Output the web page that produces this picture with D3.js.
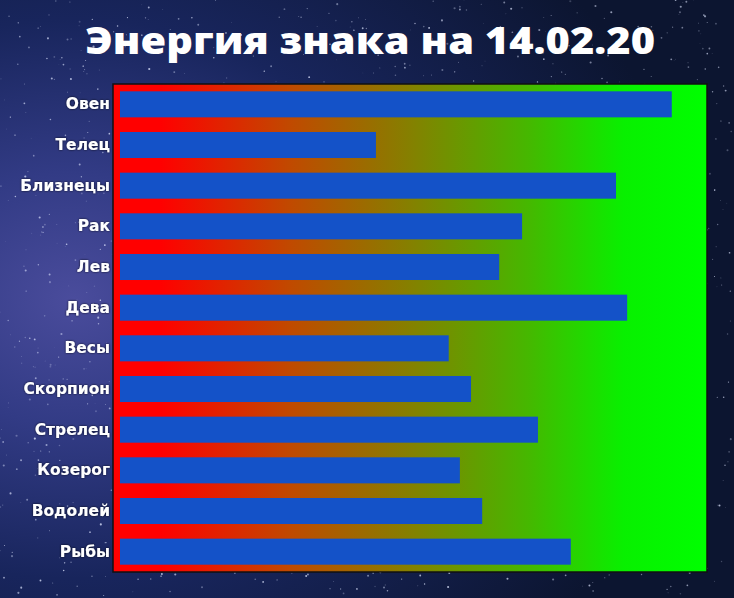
<!DOCTYPE html>
<html>
<head>
<meta charset="utf-8">
<script src="https://cdn.jsdelivr.net/npm/d3@7"></script>
<style>
  html, body { margin: 0; padding: 0; background: #0e1733; }
  svg { display: block; }
</style>
</head>
<body>
<div id="app"></div>
<script>
// знаки и энергия (0..100)
const signs = ["Овен", "Телец", "Близнецы", "Рак", "Лев", "Дева", "Весы", "Скорпион", "Стрелец", "Козерог", "Водолей", "Рыбы"];
const energy = [94, 43.6, 84.5, 68.5, 64.6, 86.4, 56, 59.8, 71.2, 57.9, 61.7, 76.8];
const title = "Энергия знака на 14.02.20";

const width = 734;
const height = 598;
const plot = { left: 113, top: 84, right: 707, bottom: 572 };

const svg = d3.select('#app')
  .append('svg')
  .attr('width', width)
  .attr('height', height);

const defs = svg.append('defs');

// night sky
const sky = defs.append('radialGradient')
  .attr('id', 'sky')
  .attr('cx', '0.1').attr('cy', '0.5').attr('r', '0.85');
sky.append('stop').attr('offset', '0%').attr('stop-color', '#4a4c9c');
sky.append('stop').attr('offset', '25%').attr('stop-color', '#323b85');
sky.append('stop').attr('offset', '55%').attr('stop-color', '#18255c');
sky.append('stop').attr('offset', '100%').attr('stop-color', '#0c1530');

const fill = defs.append('linearGradient')
  .attr('id', 'heat')
  .attr('x1', '0').attr('x2', '1').attr('y1', '0').attr('y2', '0');
[["0%", "#ff0000"], ["8%", "#ff0000"], ["30%", "#c04a00"], ["50%", "#858000"],
 ["70%", "#45b800"], ["86%", "#08f000"], ["100%", "#00ff00"]]
  .forEach(s => fill.append('stop').attr('offset', s[0]).attr('stop-color', s[1]));

const shadow = defs.append('filter').attr('id', 'shadow')
  .attr('x', '-10%').attr('y', '-30%').attr('width', '120%').attr('height', '160%');
shadow.append('feDropShadow')
  .attr('dx', 0).attr('dy', 0).attr('stdDeviation', 1.2)
  .attr('flood-color', '#000').attr('flood-opacity', 0.8);

svg.append('rect')
  .attr('width', width)
  .attr('height', height)
  .attr('fill', 'url(#sky)');

// stars (deterministic)
let seed = 7;
const rnd = () => { seed = (seed * 16807) % 2147483647; return seed / 2147483647; };
const stars = d3.range(1400).map(() => [rnd() * width, rnd() * height, rnd() * 0.8 + 0.3, rnd() * 0.6 + 0.2]);
svg.append('g')
  .selectAll('circle')
  .data(stars)
  .enter()
  .append('circle')
  .attr('cx', d => d[0])
  .attr('cy', d => d[1])
  .attr('r', d => d[2])
  .attr('fill', '#dfe6ff')
  .attr('opacity', d => d[3]);

svg.append('text')
  .attr('x', 370)
  .attr('y', 54)
  .attr('text-anchor', 'middle')
  .attr('fill', '#fff')
  .attr('textLength', 570)
  .attr('lengthAdjust', 'spacingAndGlyphs')
  .style('font-family', '"Open Sans", sans-serif')
  .style('font-weight', 800)
  .style('font-size', '37px')
  .text(title);

svg.append('rect')
  .attr('x', plot.left)
  .attr('y', plot.top)
  .attr('width', plot.right - plot.left)
  .attr('height', plot.bottom - plot.top)
  .attr('fill', 'url(#heat)')
  .attr('stroke', '#111')
  .attr('stroke-width', 1.5);

const x = d3.scaleLinear()
  .domain([0, 100])
  .range([plot.left + 7, plot.right]);

const y = d3.scaleBand()
  .domain(signs)
  .range([plot.top, plot.bottom])
  .paddingInner(0.36)
  .paddingOuter(0.18);

svg.append('g')
  .selectAll('rect')
  .data(signs)
  .enter()
  .append('rect')
  .attr('x', x(0))
  .attr('y', d => y(d))
  .attr('width', (d, i) => x(energy[i]) - x(0))
  .attr('height', y.bandwidth())
  .attr('fill', '#1452c8');

const yAxis = svg.append('g')
  .attr('transform', 'translate(' + (plot.left - 3) + ',0)')
  .call(d3.axisLeft(y).tickSize(0).tickPadding(0));
yAxis.select('.domain').remove();
yAxis.selectAll('text')
  .attr('fill', '#fff')
  .attr('filter', 'url(#shadow)')
  .style('font-family', '"DejaVu Sans", sans-serif')
  .style('font-weight', 'bold')
  .style('font-size', '15.5px');
</script>
</body>
</html>
